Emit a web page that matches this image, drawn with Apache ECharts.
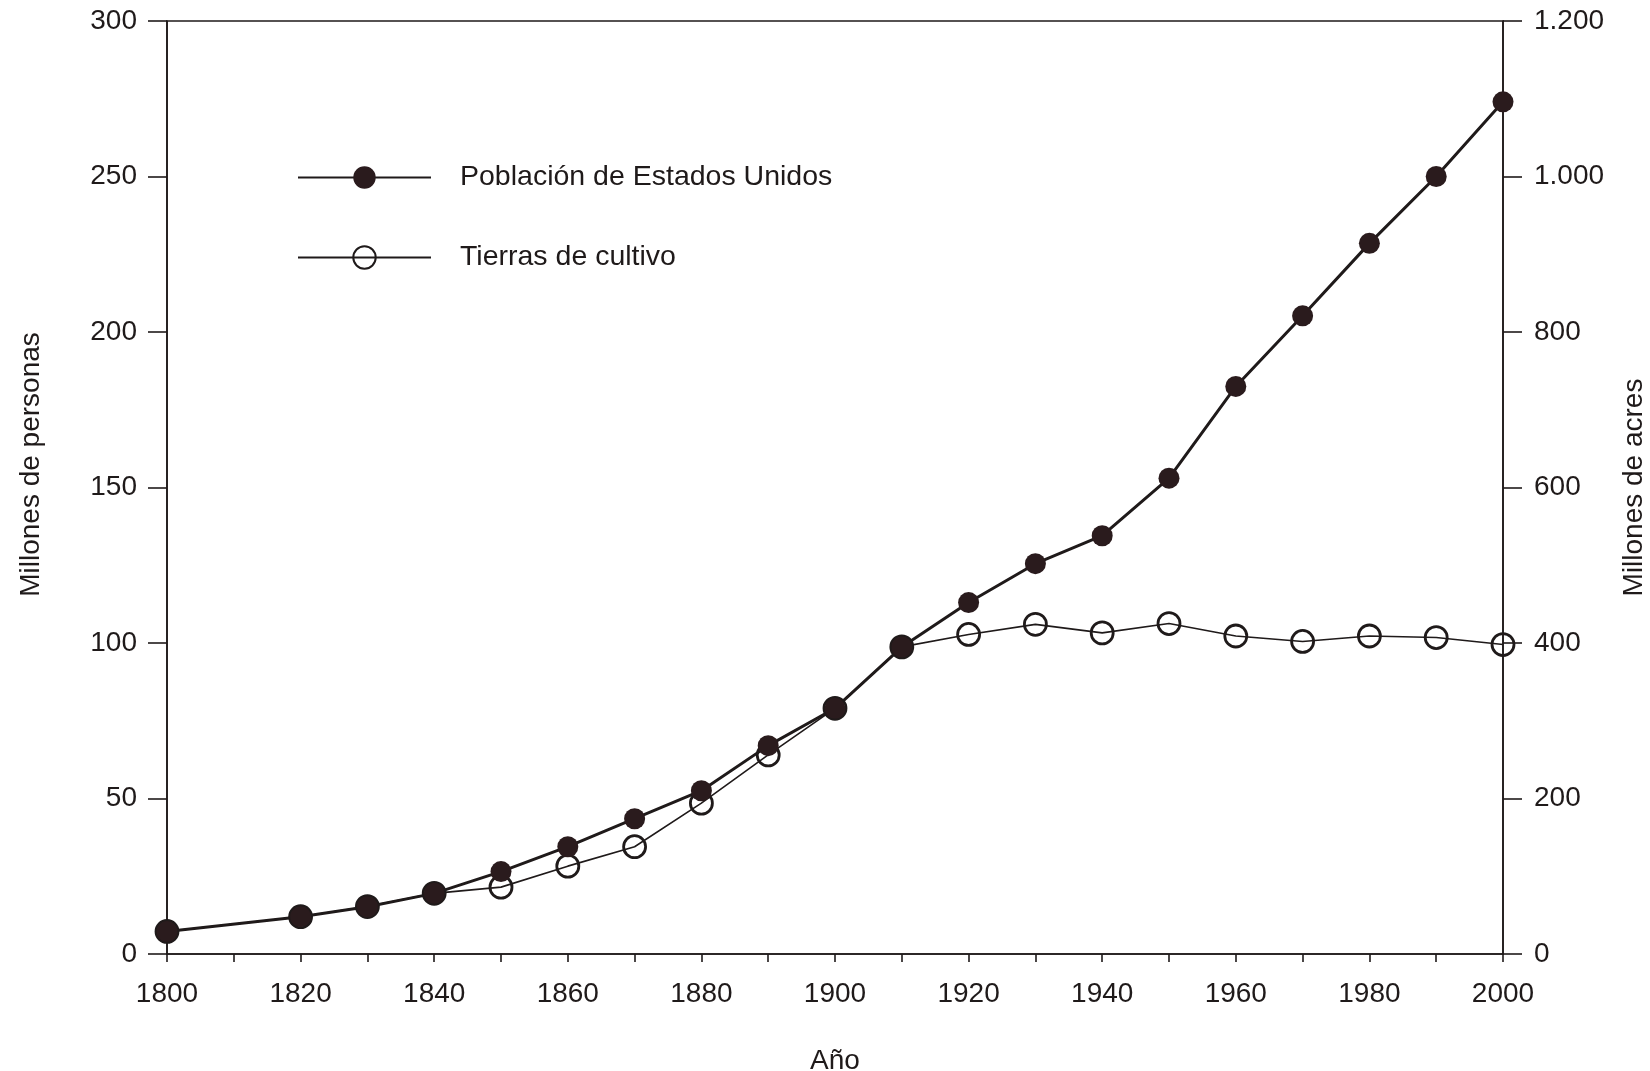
<!DOCTYPE html>
<html>
<head>
<meta charset="utf-8">
<title>Población de Estados Unidos y tierras de cultivo</title>
<script src="https://cdn.jsdelivr.net/npm/echarts@6/dist/echarts.min.js"></script>
<style>
  html, body { margin: 0; padding: 0; background: #ffffff; }
  #chart { width: 1650px; height: 1071px; }
</style>
</head>
<body>
<div id="chart"></div>
<script>
// Años censales
const years = [1800, 1820, 1830, 1840, 1850, 1860, 1870, 1880, 1890, 1900,
               1910, 1920, 1930, 1940, 1950, 1960, 1970, 1980, 1990, 2000];
// Población de Estados Unidos (millones de personas)
const population = [7.2, 12, 15.2, 19.5, 26.5, 34.5, 43.5, 52.5, 67, 79,
                    98.7, 113, 125.5, 134.5, 153, 182.5, 205.2, 228.5, 250, 274];
// Tierras de cultivo (millones de acres)
const cropland = [29, 48, 61, 78, 86, 113, 138, 194, 256, 316,
                  395, 411, 424, 413, 425, 409, 402, 409, 407, 398];

const seriesNames = ['Población de Estados Unidos', 'Tierras de cultivo'];
const axisNames = { x: 'Año', left: 'Millones de personas', right: 'Millones de acres' };

const ink = '#1f1a1a';
const font = 'Liberation Sans, Arial, Helvetica, sans-serif';
const fs = 28;

const pair = (vals) => years.map((y, i) => [y, vals[i]]);

const chart = echarts.init(document.getElementById('chart'), null, { renderer: 'canvas' });

chart.setOption({
  backgroundColor: '#ffffff',
  animation: false,
  textStyle: { fontFamily: font, color: ink },
  grid: {
    left: 167, right: 147, top: 21, bottom: 117,
    outerBoundsMode: 'none',
    containLabel: false,
    show: true, borderColor: ink, borderWidth: 1.6, backgroundColor: 'transparent'
  },
  legend: {
    orient: 'vertical',
    left: 292, top: 158,
    itemWidth: 133, itemHeight: 28, itemGap: 51,
    data: seriesNames,
    textStyle: { fontSize: 28.5, color: ink, fontFamily: font, lineHeight: 28, padding: [0, 0, 0, 24] }
  },
  xAxis: {
    type: 'value',
    min: 1800, max: 2000, interval: 10,
    name: axisNames.x, nameLocation: 'middle', nameGap: 93,
    nameTextStyle: { fontSize: fs, color: ink, fontFamily: font },
    axisLine: { show: true, onZero: false, lineStyle: { color: ink, width: 1.6 } },
    axisTick: { show: true, inside: false, length: 8, lineStyle: { color: ink, width: 1.6 } },
    axisLabel: {
      fontSize: fs, color: ink, fontFamily: font, margin: 26,
      formatter: (v) => (v % 20 === 0 ? String(v) : '')
    },
    splitLine: { show: false }
  },
  yAxis: [
    {
      type: 'value', position: 'left',
      min: 0, max: 300, interval: 50,
      name: axisNames.left, nameLocation: 'middle', nameGap: 122, nameRotate: 90,
      nameTextStyle: { fontSize: fs, color: ink, fontFamily: font, padding: [0, 0, 0, 46] },
      axisLine: { show: true, lineStyle: { color: ink, width: 1.6 } },
      axisTick: { show: true, inside: false, length: 19, lineStyle: { color: ink, width: 1.6 } },
      axisLabel: { fontSize: fs, color: ink, fontFamily: font, margin: 30 },
      splitLine: { show: false }
    },
    {
      type: 'value', position: 'right',
      min: 0, max: 1200, interval: 200,
      name: axisNames.right, nameLocation: 'middle', nameGap: 117, nameRotate: 90,
      nameTextStyle: { fontSize: fs, color: ink, fontFamily: font },
      axisLine: { show: true, lineStyle: { color: ink, width: 1.6 } },
      axisTick: { show: true, inside: false, length: 19, lineStyle: { color: ink, width: 1.6 } },
      axisLabel: {
        fontSize: fs, color: ink, fontFamily: font, margin: 31,
        formatter: (v) => String(v).replace(/\B(?=(\d{3})+(?!\d))/g, '.')
      },
      splitLine: { show: false }
    }
  ],
  series: [
    {
      name: seriesNames[1],
      type: 'line',
      yAxisIndex: 1,
      data: pair(cropland),
      symbol: 'circle',
      symbolSize: 22,
      z: 2,
      lineStyle: { color: ink, width: 1.6 },
      itemStyle: { color: 'rgba(0,0,0,0)', borderColor: ink, borderWidth: 2.8 }
    },
    {
      name: seriesNames[0],
      type: 'line',
      yAxisIndex: 0,
      data: pair(population),
      symbol: 'circle',
      symbolSize: 21,
      z: 3,
      lineStyle: { color: ink, width: 3 },
      itemStyle: { color: '#2a1b1d', borderColor: '#2a1b1d', borderWidth: 0 }
    }
  ]
});
</script>
</body>
</html>
